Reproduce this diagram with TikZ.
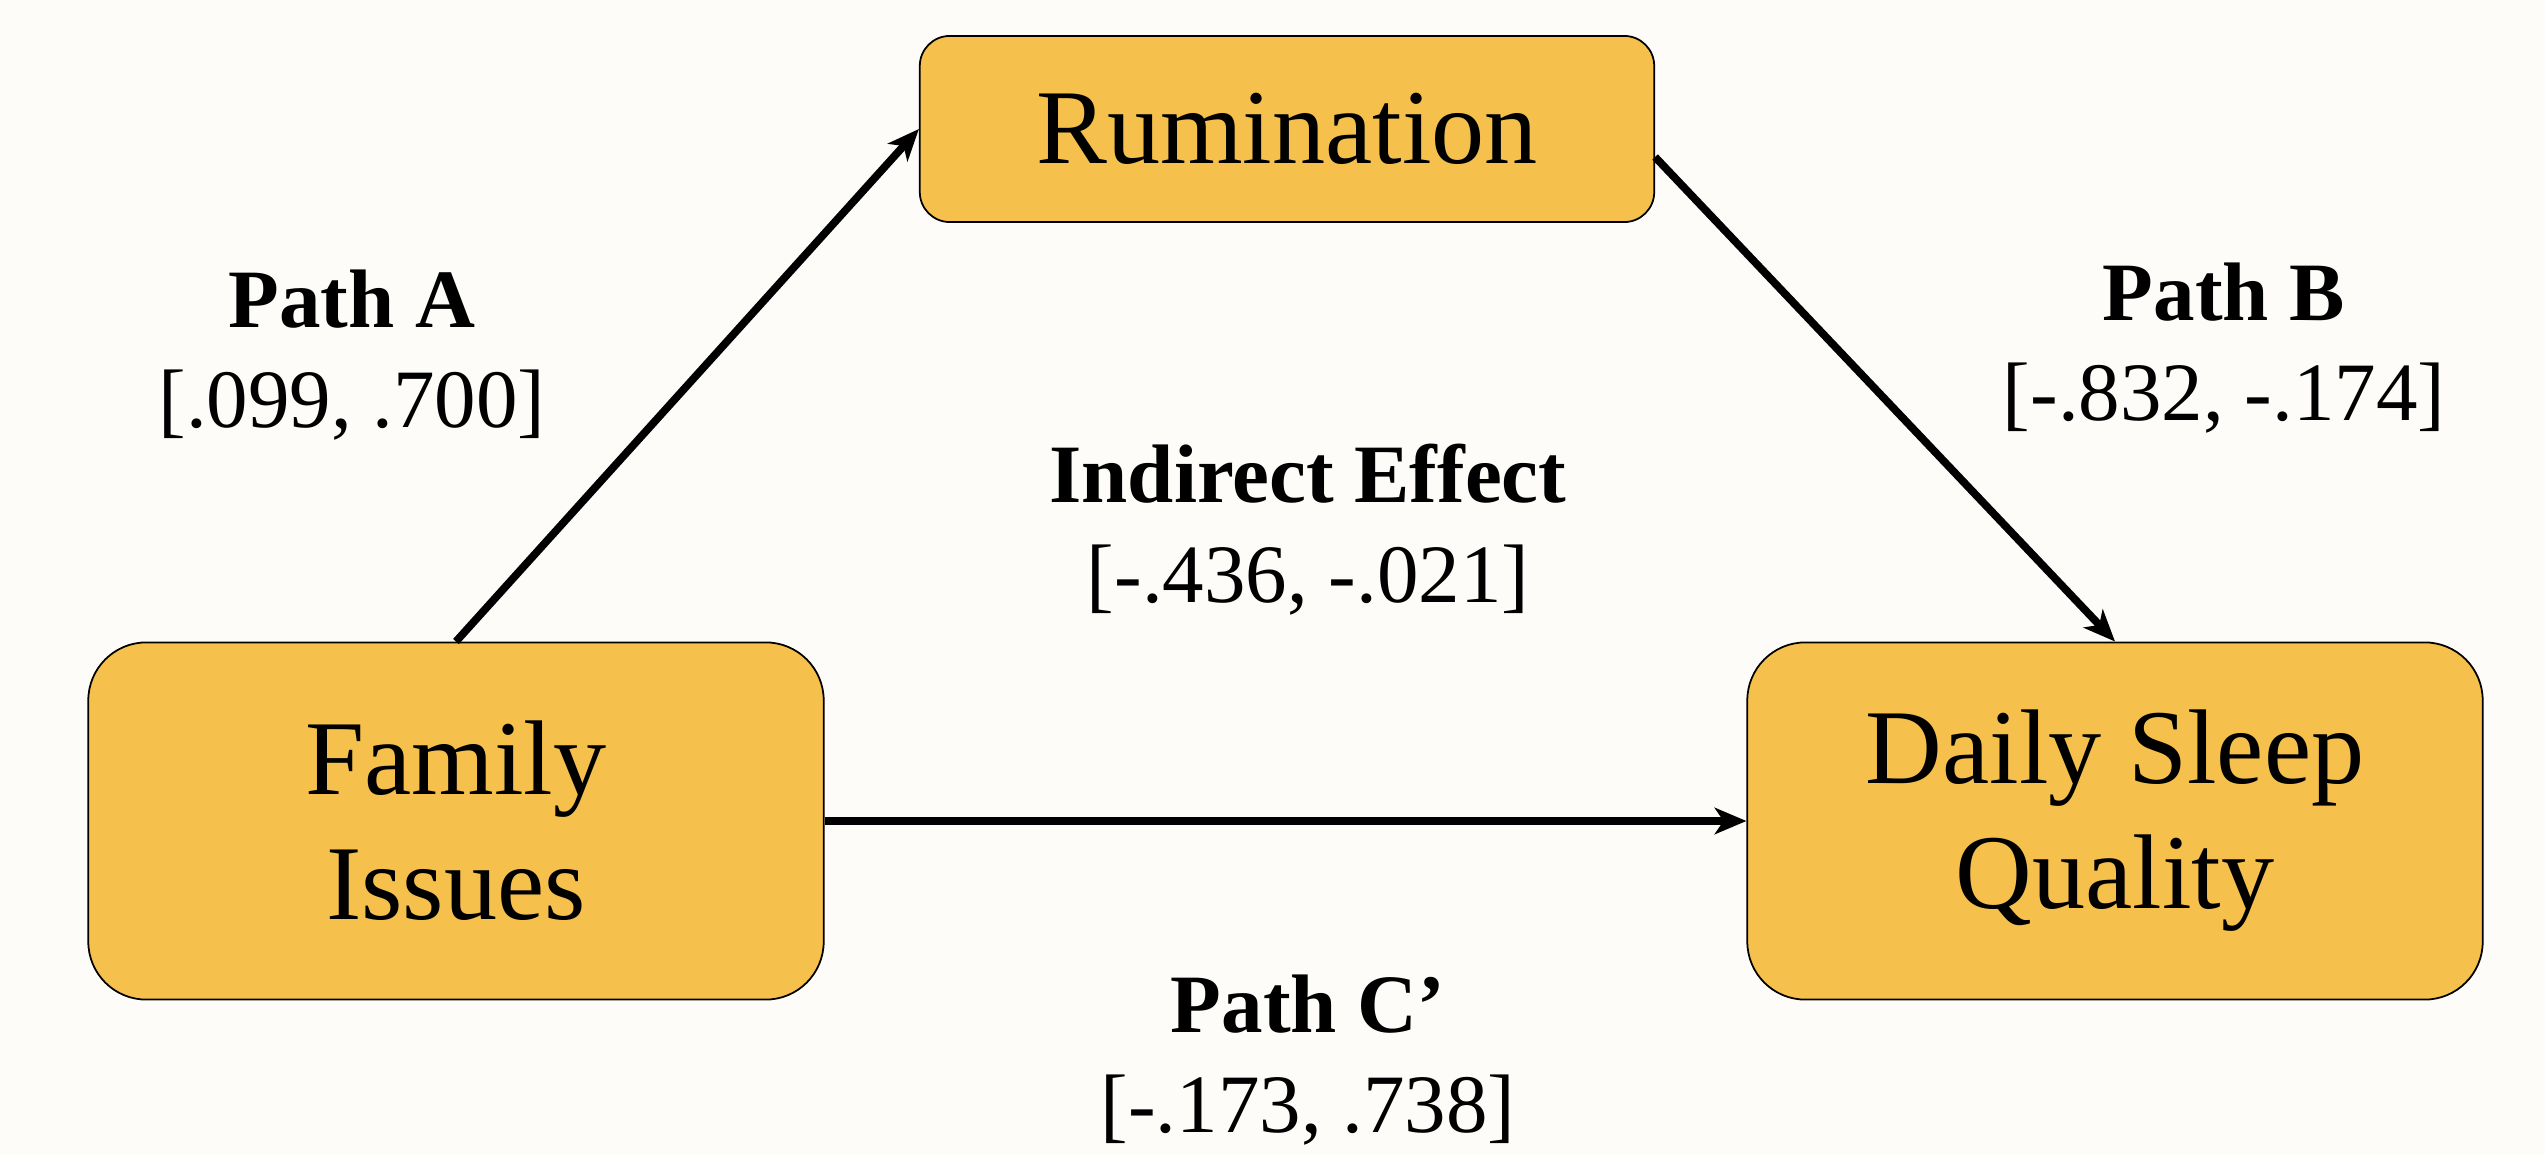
\documentclass[tikz,border=0pt]{standalone}
\usepackage{fontspec}
\setmainfont{Liberation Serif}
\usepackage{tikz}
\usetikzlibrary{positioning}
\usetikzlibrary{arrows.meta}
\definecolor{boxfill}{HTML}{F5C04C}
\definecolor{paper}{HTML}{FDFCF8}

\begin{document}
\begin{tikzpicture}[x=0.01cm,y=-0.01cm,
                    var/.style={draw=black,line width=0.5pt,fill=boxfill,align=center,
                        font=\fontsize{30.2}{35.5}\selectfont},
                    est/.style={align=center,font=\fontsize{23.6}{28.5}\selectfont},
                    path/.style={-{Stealth[length=9pt,width=7.5pt,inset=2.5pt]},line width=2.2pt}]
                \fill[paper] (0,0) rectangle (2545,1155);
                \useasboundingbox (0,0) rectangle (2545,1155);
                \node[var,rounded corners=0.3cm,minimum width=7.34cm,minimum height=1.86cm]
                    (rum) at (1287,129) {Rumination};
                \node[var,rounded corners=0.58cm,minimum width=7.35cm,minimum height=3.57cm]
                    (fam) at (456,821) {Family\\Issues};
                \node[var,rounded corners=0.58cm,minimum width=7.35cm,minimum height=3.57cm]
                    (dsq) at (2115,821) {Daily Sleep\\Quality};
                \node[est] (pa) at (352,355) {\textbf{Path A}\\{[}.099, .700]};
                \node[est] (pb) at (2224,348) {\textbf{Path B}\\{[}-.832, -.174]};
                \node[est] (ie) at (1308,530) {\textbf{Indirect Effect}\\{[}-.436, -.021]};
                \node[est] (pc) at (1308,1060) {\textbf{Path C’}\\{[}-.173, .738]};
                \draw[path] (fam.north) -- (rum.west);
                \draw[path] ([yshift=-0.28cm]rum.east) -- (dsq.north);
                \draw[path] (fam.east) -- (dsq.west);
            \end{tikzpicture}
\end{document}
